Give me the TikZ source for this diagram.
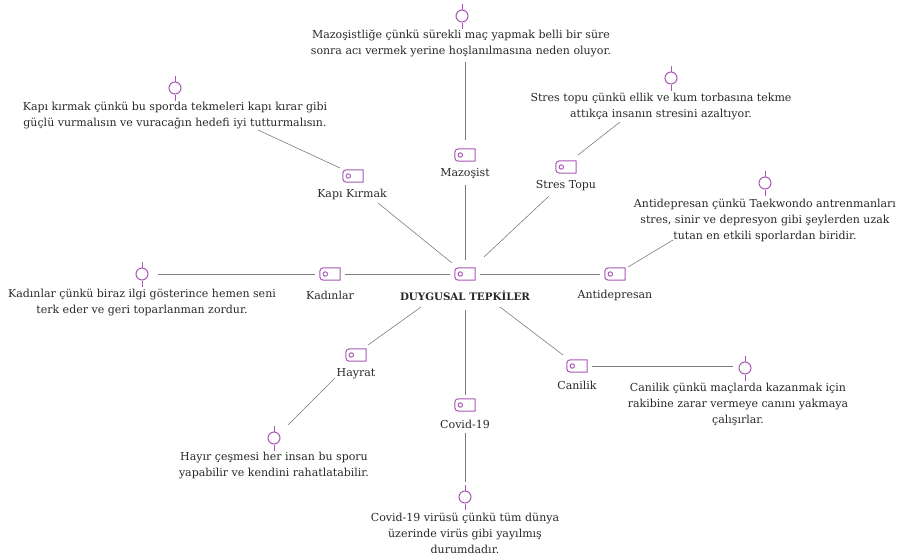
\documentclass[tikz,border=0pt]{standalone}
\usepackage{fontspec}
\setmainfont{DejaVu Serif}
\definecolor{tagc}{RGB}{168,88,180}
\definecolor{txt}{RGB}{40,40,40}
\definecolor{linec}{RGB}{125,125,125}
\newcommand\tagicon[1]{\draw[tagc,line width=1pt,line join=round] (#1.north east) [rounded corners=3.5pt] -- (#1.north west) -- (#1.south west) [sharp corners] -- (#1.south east) -- cycle ([xshift=5.5pt]#1.west) circle[radius=2.2pt];}
\newcommand\pinstubs[1]{\draw[tagc,line width=1pt] (#1.north) -- ++(0pt,6pt) (#1.south) -- ++(0pt,-6pt);}
\begin{document}
\begin{tikzpicture}[x=1pt,y=-1pt,
  tagbox/.style={minimum width=20pt,minimum height=12pt,inner sep=0pt},
  pinbox/.style={circle,draw=tagc,line width=1pt,minimum size=12pt,inner sep=0pt},
  leaf/.style={align=center,font=\fontsize{11}{16}\selectfont,text=txt,inner sep=0pt},
  cat/.style={font=\fontsize{11}{12}\selectfont,text=txt,inner sep=0pt},
  conn/.style={draw=linec,line width=0.6pt}]
\useasboundingbox (0,0) rectangle (900,554);
% center
\node[tagbox] (c) at (465,274) {};
\node[font=\fontsize{10.3}{12}\selectfont\bfseries,text=txt,inner sep=0pt] (cl) at (465,296) {DUYGUSAL TEPKİLER};
% categories
\node[tagbox] (mz) at (465,155) {};
\node[cat] (mzl) at (465,174) {Mazoşist};
\node[tagbox] (st) at (566,167) {};
\node[cat] (stl) at (566,186) {Stres Topu};
\node[tagbox] (kk) at (353,176) {};
\node[cat] (kkl) at (352,194) {Kapı Kırmak};
\node[tagbox] (kd) at (330,274) {};
\node[cat] (kdl) at (330,295) {Kadınlar};
\node[tagbox] (an) at (615,274) {};
\node[cat] (anl) at (615,295) {Antidepresan};
\node[tagbox] (hy) at (356,355) {};
\node[cat] (hyl) at (356,374) {Hayrat};
\node[tagbox] (cv) at (465,405) {};
\node[cat] (cvl) at (465,424) {Covid-19};
\node[tagbox] (ca) at (577,366) {};
\node[cat] (cal) at (577,385) {Canilik};
\foreach \n in {c,mz,st,kk,kd,an,hy,cv,ca}{\tagicon{\n}}
% pins
\node[pinbox] (pmz) at (462,16) {};
\node[pinbox] (pst) at (671,78) {};
\node[pinbox] (pkk) at (175,88) {};
\node[pinbox] (pan) at (765,183) {};
\node[pinbox] (pkd) at (142,274) {};
\node[pinbox] (pca) at (745,368) {};
\node[pinbox] (phy) at (274,438) {};
\node[pinbox] (pcv) at (465,497) {};
\foreach \n in {pmz,pst,pkk,pan,pkd,pca,phy,pcv}{\pinstubs{\n}}
% leaf texts
\node[leaf] (tmz) at (461,43) {Mazoşistliğe çünkü sürekli maç yapmak belli bir süre\\sonra acı vermek yerine hoşlanılmasına neden oluyor.};
\node[leaf] (tst) at (661,107) {Stres topu çünkü ellik ve kum torbasına tekme\\attıkça insanın stresini azaltıyor.};
\node[leaf] (tkk) at (175,116) {Kapı kırmak çünkü bu sporda tekmeleri kapı kırar gibi\\güçlü vurmalısın ve vuracağın hedefi iyi tutturmalısın.};
\node[leaf] (tan) at (765,220) {Antidepresan çünkü Taekwondo antrenmanları\\stres, sinir ve depresyon gibi şeylerden uzak\\tutan en etkili sporlardan biridir.};
\node[leaf] (tkd) at (142,303) {Kadınlar çünkü biraz ilgi gösterince hemen seni\\terk eder ve geri toparlanman zordur.};
\node[leaf] (tca) at (738,404) {Canilik çünkü maçlarda kazanmak için\\rakibine zarar vermeye canını yakmaya\\çalışırlar.};
\node[leaf] (thy) at (274,466) {Hayır çeşmesi her insan bu sporu\\yapabilir ve kendini rahatlatabilir.};
\node[leaf] (tcv) at (465,533) {Covid-19 virüsü çünkü tüm dünya\\üzerinde virüs gibi yayılmış\\durumdadır.};
% connector end points
\coordinate (a1) at (465,260); \coordinate (b1) at (465,185);
\coordinate (a2) at (484,257); \coordinate (b2) at (549,196);
\coordinate (a3) at (452,263); \coordinate (b3) at (378,203);
\coordinate (a4) at (450,274); \coordinate (b4) at (345,274);
\coordinate (a5) at (480,274); \coordinate (b5) at (600,274);
\coordinate (a6) at (421,307); \coordinate (b6) at (368,345);
\coordinate (a7) at (465,310); \coordinate (b7) at (465,395);
\coordinate (a8) at (500,307); \coordinate (b8) at (563,355);
\coordinate (d1) at (465,140); \coordinate (e1) at (465,62);
\coordinate (d2) at (578,155); \coordinate (e2) at (620,122);
\coordinate (d3) at (340,168); \coordinate (e3) at (258,130);
\coordinate (d4) at (315,274); \coordinate (e4) at (158,274);
\coordinate (d5) at (628,267); \coordinate (e5) at (673,240);
\coordinate (d6) at (335,378); \coordinate (e6) at (288,425);
\coordinate (d7) at (465,433); \coordinate (e7) at (465,482);
\coordinate (d8) at (592,366); \coordinate (e8) at (733,366);
\foreach \i in {1,...,8}{\draw[conn] (a\i) -- (b\i); \draw[conn] (d\i) -- (e\i);}
\end{tikzpicture}
\end{document}
